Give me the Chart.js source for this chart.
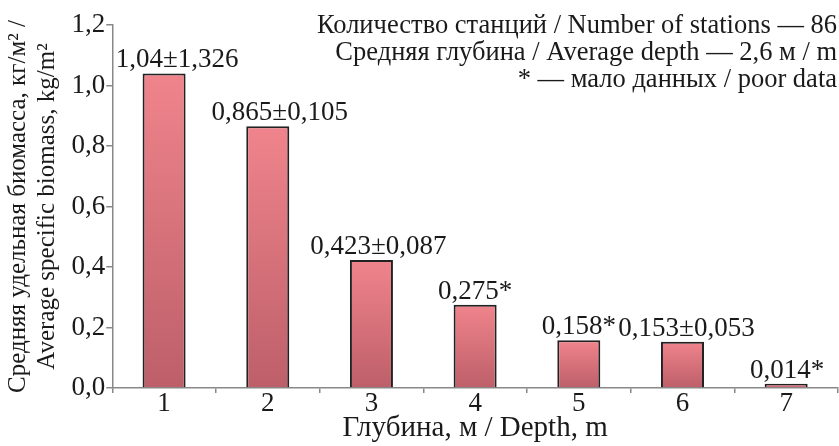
<!DOCTYPE html>
<html>
<head>
<meta charset="utf-8">
<script src="https://cdn.jsdelivr.net/npm/chart.js@4"></script>
<style>
    body { margin: 0; background: #fff; }
    #wrap { width: 839px; height: 446px; }
</style>
</head>
<body>
<div id="wrap"><canvas id="biomass-graph"></canvas></div>
<script>
const depths = ['1', '2', '3', '4', '5', '6', '7'];
const biomass = [1.04, 0.865, 0.423, 0.275, 0.158, 0.153, 0.014];
const barLabels = ['1,04±1,326', '0,865±0,105', '0,423±0,087', '0,275*', '0,158*', '0,153±0,053', '0,014*'];
const noteLines = [
    'Количество станций / Number of stations — 86',
    'Средняя глубина / Average depth — 2,6 м / m',
    '* — мало данных / poor data'
];

const serif = "'Liberation Serif', 'Times New Roman', serif";
// labels in the source sit a little right of some bars
const labelShift = [13, 12, 7, 0, 0, 4, 1];

// each bar gets its own light-to-dark gradient
function barGradient(context) {
    const chart = context.chart;
    const y = chart.scales.y;
    if (!y || context.dataIndex === undefined) return '#d8707a';
    const top = y.getPixelForValue(context.raw);
    const base = y.getPixelForValue(0);
    if (!isFinite(top) || !isFinite(base) || top === base) return '#d8707a';
    const g = chart.ctx.createLinearGradient(0, top, 0, base);
    g.addColorStop(0, '#f0848c');
    g.addColorStop(1, '#bd5f69');
    return g;
}

const textPlugin = {
    id: 'textPlugin',
    afterDatasetsDraw(chart) {
        const ctx = chart.ctx;
        const meta = chart.getDatasetMeta(0);
        ctx.save();
        ctx.fillStyle = '#1a1a1a';
        ctx.font = '27px ' + serif;
        ctx.textAlign = 'center';
        ctx.textBaseline = 'alphabetic';
        meta.data.forEach((bar, i) => {
            ctx.fillText(barLabels[i], bar.x + labelShift[i], bar.y - 6);
        });
        ctx.font = '26.5px ' + serif;
        ctx.textAlign = 'right';
        noteLines.forEach((line, i) => {
            ctx.fillText(line, 837, 33 + i * 27);
        });
        ctx.restore();
    }
};

document.addEventListener("DOMContentLoaded", () => {
    new Chart("biomass-graph", {
        type: 'bar',
        data: {
            labels: depths,
            datasets: [{
                data: biomass,
                backgroundColor: barGradient,
                borderColor: '#222',
                borderWidth: 2,
                borderSkipped: 'bottom',
                barPercentage: 0.415,
                categoryPercentage: 1.0
            }]
        },
        options: {
            responsive: true,
            maintainAspectRatio: false,
            animation: false,
            layout: { padding: { top: 25, right: 1, left: 4, bottom: 0 } },
            plugins: {
                legend: { display: false },
                tooltip: { enabled: false }
            },
            scales: {
                x: {
                    grid: {
                        drawOnChartArea: false,
                        tickLength: 5,
                        color: '#888',
                        lineWidth: 1.5
                    },
                    border: { color: '#888', width: 1.5 },
                    ticks: {
                        color: '#1a1a1a',
                        font: { family: serif, size: 27, lineHeight: 1 },
                        padding: -3
                    },
                    title: {
                        display: true,
                        text: 'Глубина, м / Depth, m',
                        color: '#1a1a1a',
                        font: { family: serif, size: 29, lineHeight: 1 },
                        padding: { top: 0, bottom: 3 }
                    }
                },
                y: {
                    min: 0,
                    max: 1.2,
                    grid: {
                        drawOnChartArea: false,
                        tickLength: 6,
                        color: '#888',
                        lineWidth: 1.5
                    },
                    border: { color: '#888', width: 1.5 },
                    ticks: {
                        stepSize: 0.2,
                        color: '#1a1a1a',
                        font: { family: serif, size: 27, lineHeight: 1 },
                        padding: 1,
                        callback: function(value) {
                            return value.toFixed(1).replace('.', ',');
                        }
                    },
                    title: {
                        display: true,
                        text: ['Средняя удельная биомасса, кг/м² /', 'Average specific biomass, kg/m²'],
                        color: '#1a1a1a',
                        font: { family: serif, size: 25, lineHeight: 1.15 },
                        padding: { top: 0, bottom: 9 }
                    }
                }
            }
        },
        plugins: [textPlugin]
    });
});
</script>
</body>
</html>
